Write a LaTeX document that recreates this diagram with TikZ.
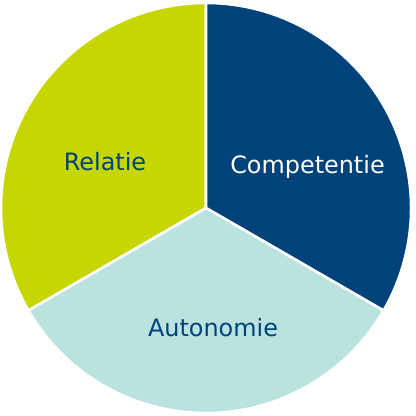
\documentclass[tikz,border=0pt]{standalone}
\usepackage{fontspec}
\setmainfont{DejaVu Sans}
\definecolor{compblue}{HTML}{00427A}
\definecolor{relgreen}{HTML}{C5D600}
\definecolor{autocyan}{HTML}{BAE3E0}
\begin{document}
\begin{tikzpicture}[
  x=0.025cm, y=0.025cm,
  slice/.style={draw=white, line width=1.8pt, line join=round},
  label/.style={font=\fontsize{17}{19}\selectfont, inner sep=0pt, text=compblue}
]
\useasboundingbox (0,0) rectangle (416,416);
\coordinate (centre) at (206,208);

% Slices
\fill[relgreen, slice] (centre) -- ++(90:205) arc[start angle=90, end angle=210, radius=205] -- cycle;
\fill[compblue, slice] (centre) -- ++(-30:205) arc[start angle=-30, end angle=90, radius=205] -- cycle;
\fill[autocyan, slice] (centre) -- ++(210:205) arc[start angle=210, end angle=330, radius=205] -- cycle;

% Labels
\node[label, text=white] (competentie) at (307.5,249) {Competentie};
\node[label] (relatie) at (105,254) {Relatie};
\node[label] (autonomie) at (213,88) {Autonomie};

\end{tikzpicture}
\end{document}
